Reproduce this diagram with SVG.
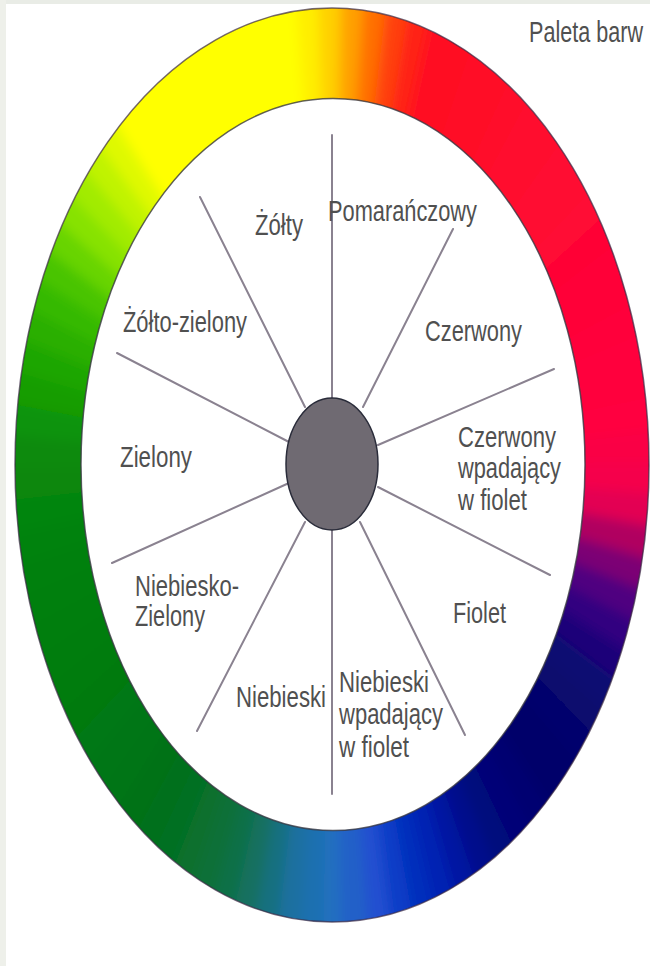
<svg xmlns="http://www.w3.org/2000/svg" width="650" height="966" viewBox="0 0 650 966">
<style>
.lbl{font-family:"Liberation Sans",Arial,sans-serif;font-size:30px;fill:#505050;}
.spoke{stroke:#8a8290;stroke-width:2;stroke-linecap:round;}
</style>
<defs>
<path id="w" d="M0 0L-0.046 -1.1L0.046 -1.1Z"/>
<clipPath id="outer"><ellipse cx="332" cy="465" rx="317" ry="457"/></clipPath>
<filter id="soft" x="-10%" y="-10%" width="120%" height="120%"><feGaussianBlur stdDeviation="6"/></filter>
</defs>
<rect x="0" y="0" width="650" height="966" fill="#ffffff"/>
<rect x="0" y="0" width="650" height="4" fill="#e9ece6"/>
<rect x="0" y="0" width="6" height="966" fill="#eef0ea"/>
<g id="ring">
<g clip-path="url(#outer)">
<g filter="url(#soft)">
<g transform="translate(332,465) scale(317,457)">
<use href="#w" transform="rotate(-180)" fill="#2070c0"/>
<use href="#w" transform="rotate(-176)" fill="#1d70b0"/>
<use href="#w" transform="rotate(-172)" fill="#1a70a0"/>
<use href="#w" transform="rotate(-168)" fill="#177080"/>
<use href="#w" transform="rotate(-164)" fill="#137061"/>
<use href="#w" transform="rotate(-160)" fill="#117047"/>
<use href="#w" transform="rotate(-156)" fill="#0d7038"/>
<use href="#w" transform="rotate(-152)" fill="#08702d"/>
<use href="#w" transform="rotate(-148)" fill="#037022"/>
<use href="#w" transform="rotate(-144)" fill="#00701a"/>
<use href="#w" transform="rotate(-140)" fill="#007218"/>
<use href="#w" transform="rotate(-136)" fill="#007416"/>
<use href="#w" transform="rotate(-132)" fill="#007614"/>
<use href="#w" transform="rotate(-128)" fill="#007812"/>
<use href="#w" transform="rotate(-124)" fill="#007a10"/>
<use href="#w" transform="rotate(-120)" fill="#007b0f"/>
<use href="#w" transform="rotate(-116)" fill="#007d0d"/>
<use href="#w" transform="rotate(-112)" fill="#007e0c"/>
<use href="#w" transform="rotate(-108)" fill="#007f0b"/>
<use href="#w" transform="rotate(-104)" fill="#008009"/>
<use href="#w" transform="rotate(-100)" fill="#008208"/>
<use href="#w" transform="rotate(-96)" fill="#038509"/>
<use href="#w" transform="rotate(-92)" fill="#078709"/>
<use href="#w" transform="rotate(-88)" fill="#0a8a0a"/>
<use href="#w" transform="rotate(-84)" fill="#119307"/>
<use href="#w" transform="rotate(-80)" fill="#189d04"/>
<use href="#w" transform="rotate(-76)" fill="#1ea601"/>
<use href="#w" transform="rotate(-72)" fill="#2aaf00"/>
<use href="#w" transform="rotate(-68)" fill="#36b900"/>
<use href="#w" transform="rotate(-64)" fill="#48c400"/>
<use href="#w" transform="rotate(-60)" fill="#68d400"/>
<use href="#w" transform="rotate(-56)" fill="#87e200"/>
<use href="#w" transform="rotate(-52)" fill="#a2eb00"/>
<use href="#w" transform="rotate(-48)" fill="#c0f300"/>
<use href="#w" transform="rotate(-44)" fill="#dff900"/>
<use href="#w" transform="rotate(-40)" fill="#ffff00"/>
<use href="#w" transform="rotate(-36)" fill="#ffff00"/>
<use href="#w" transform="rotate(-32)" fill="#ffff00"/>
<use href="#w" transform="rotate(-28)" fill="#ffff00"/>
<use href="#w" transform="rotate(-24)" fill="#ffff00"/>
<use href="#w" transform="rotate(-20)" fill="#ffff00"/>
<use href="#w" transform="rotate(-16)" fill="#ffff00"/>
<use href="#w" transform="rotate(-12)" fill="#ffff00"/>
<use href="#w" transform="rotate(-8)" fill="#ffff00"/>
<use href="#w" transform="rotate(-4)" fill="#ffee00"/>
<use href="#w" transform="rotate(0)" fill="#ffd000"/>
<use href="#w" transform="rotate(4)" fill="#ffa000"/>
<use href="#w" transform="rotate(8)" fill="#ff7000"/>
<use href="#w" transform="rotate(12)" fill="#ff410b"/>
<use href="#w" transform="rotate(16)" fill="#ff2115"/>
<use href="#w" transform="rotate(20)" fill="#ff1020"/>
<use href="#w" transform="rotate(24)" fill="#ff0f23"/>
<use href="#w" transform="rotate(28)" fill="#ff0e25"/>
<use href="#w" transform="rotate(32)" fill="#ff0d28"/>
<use href="#w" transform="rotate(36)" fill="#ff0c2a"/>
<use href="#w" transform="rotate(40)" fill="#ff0b2d"/>
<use href="#w" transform="rotate(44)" fill="#ff0a2f"/>
<use href="#w" transform="rotate(48)" fill="#ff0931"/>
<use href="#w" transform="rotate(52)" fill="#ff0833"/>
<use href="#w" transform="rotate(56)" fill="#ff0734"/>
<use href="#w" transform="rotate(60)" fill="#ff0636"/>
<use href="#w" transform="rotate(64)" fill="#ff0538"/>
<use href="#w" transform="rotate(68)" fill="#ff0439"/>
<use href="#w" transform="rotate(72)" fill="#ff033b"/>
<use href="#w" transform="rotate(76)" fill="#ff023c"/>
<use href="#w" transform="rotate(80)" fill="#ff013e"/>
<use href="#w" transform="rotate(84)" fill="#ff0040"/>
<use href="#w" transform="rotate(88)" fill="#fa0045"/>
<use href="#w" transform="rotate(92)" fill="#f5004b"/>
<use href="#w" transform="rotate(96)" fill="#e30053"/>
<use href="#w" transform="rotate(100)" fill="#b00060"/>
<use href="#w" transform="rotate(104)" fill="#7b0075"/>
<use href="#w" transform="rotate(108)" fill="#500080"/>
<use href="#w" transform="rotate(112)" fill="#300080"/>
<use href="#w" transform="rotate(116)" fill="#1f0479"/>
<use href="#w" transform="rotate(120)" fill="#0e0972"/>
<use href="#w" transform="rotate(124)" fill="#08086e"/>
<use href="#w" transform="rotate(128)" fill="#05056d"/>
<use href="#w" transform="rotate(132)" fill="#02026b"/>
<use href="#w" transform="rotate(136)" fill="#00016b"/>
<use href="#w" transform="rotate(140)" fill="#000371"/>
<use href="#w" transform="rotate(144)" fill="#000677"/>
<use href="#w" transform="rotate(148)" fill="#00097d"/>
<use href="#w" transform="rotate(152)" fill="#000e8c"/>
<use href="#w" transform="rotate(156)" fill="#0016a2"/>
<use href="#w" transform="rotate(160)" fill="#0022b3"/>
<use href="#w" transform="rotate(164)" fill="#002dbc"/>
<use href="#w" transform="rotate(168)" fill="#0e3ec7"/>
<use href="#w" transform="rotate(172)" fill="#2050d0"/>
<use href="#w" transform="rotate(176)" fill="#2060c8"/>
</g>
</g>
</g>
<ellipse cx="332" cy="465" rx="317" ry="457" fill="none" stroke="#3a2a44" stroke-opacity="0.7" stroke-width="1.5"/>
<ellipse cx="333" cy="464.5" rx="252" ry="366" fill="#ffffff" stroke="#3a3a44" stroke-opacity="0.8" stroke-width="1.5"/>
</g>
<g id="connectors">
<line class="spoke" x1="332" y1="135" x2="332" y2="399"/>
<line class="spoke" x1="332" y1="530" x2="332" y2="794"/>
<line class="spoke" x1="200" y1="197" x2="305" y2="407"/>
<line class="spoke" x1="453" y1="229" x2="363" y2="407"/>
<line class="spoke" x1="117" y1="353" x2="289" y2="442"/>
<line class="spoke" x1="554" y1="369" x2="378" y2="445"/>
<line class="spoke" x1="112" y1="563" x2="289" y2="483"/>
<line class="spoke" x1="378" y1="487" x2="550" y2="575"/>
<line class="spoke" x1="305" y1="522" x2="197" y2="731"/>
<line class="spoke" x1="360" y1="522" x2="465" y2="735"/>
</g>
<g id="center">
<ellipse cx="332" cy="464" rx="46" ry="66" fill="#6f6a72" stroke="#2a2c3a" stroke-width="1.5"/>
</g>
<g id="title"><text class="lbl" transform="translate(529,42) scale(0.72,1)">Paleta barw</text></g>
<g id="zolty"><text class="lbl" x="255" y="235" textLength="48" lengthAdjust="spacingAndGlyphs">Żółty</text></g>
<g id="pomaranczowy"><text class="lbl" x="328" y="221" textLength="149" lengthAdjust="spacingAndGlyphs">Pomarańczowy</text></g>
<g id="zolto-zielony"><text class="lbl" x="123" y="332" textLength="124" lengthAdjust="spacingAndGlyphs">Żółto-zielony</text></g>
<g id="czerwony"><text class="lbl" x="425" y="341" textLength="97" lengthAdjust="spacingAndGlyphs">Czerwony</text></g>
<g id="zielony"><text class="lbl" x="120" y="467" textLength="72" lengthAdjust="spacingAndGlyphs">Zielony</text></g>
<g id="czerwony-fiolet">
<text class="lbl" x="458" y="447" textLength="98" lengthAdjust="spacingAndGlyphs">Czerwony</text>
<text class="lbl" x="458" y="478" textLength="103" lengthAdjust="spacingAndGlyphs">wpadający</text>
<text class="lbl" x="458" y="510" textLength="69" lengthAdjust="spacingAndGlyphs">w fiolet</text>
</g>
<g id="niebiesko-zielony">
<text class="lbl" x="135" y="596" textLength="104" lengthAdjust="spacingAndGlyphs">Niebiesko-</text>
<text class="lbl" x="135" y="626" textLength="70" lengthAdjust="spacingAndGlyphs">Zielony</text>
</g>
<g id="fiolet"><text class="lbl" x="453" y="623" textLength="53" lengthAdjust="spacingAndGlyphs">Fiolet</text></g>
<g id="niebieski"><text class="lbl" x="236" y="707" textLength="90" lengthAdjust="spacingAndGlyphs">Niebieski</text></g>
<g id="niebieski-fiolet">
<text class="lbl" x="339" y="692" textLength="90" lengthAdjust="spacingAndGlyphs">Niebieski</text>
<text class="lbl" x="339" y="724" textLength="104" lengthAdjust="spacingAndGlyphs">wpadający</text>
<text class="lbl" x="339" y="757" textLength="70" lengthAdjust="spacingAndGlyphs">w fiolet</text>
</g>
</svg>
